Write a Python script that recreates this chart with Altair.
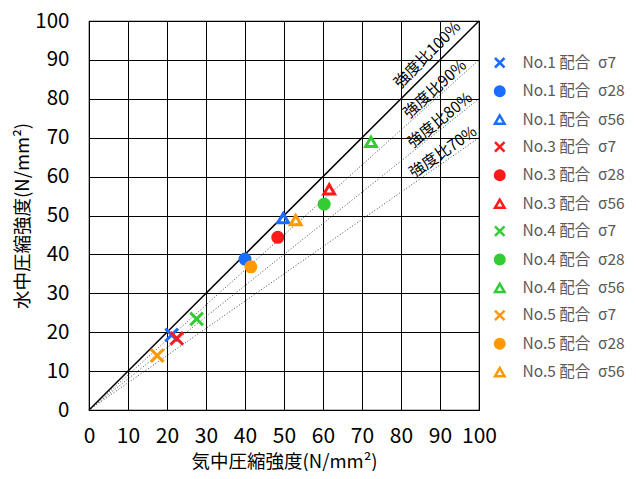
import altair as alt
import pandas as pd

series = ["No.1 配合\u2002σ7", "No.1 配合\u2002σ28", "No.1 配合\u2002σ56",
          "No.3 配合\u2002σ7", "No.3 配合\u2002σ28", "No.3 配合\u2002σ56",
          "No.4 配合\u2002σ7", "No.4 配合\u2002σ28", "No.4 配合\u2002σ56",
          "No.5 配合\u2002σ7", "No.5 配合\u2002σ28", "No.5 配合\u2002σ56"]
air = [21.2, 40.0, 49.8, 22.5, 48.4, 61.6, 27.6, 60.3, 72.3, 17.5, 41.5, 53.0]
water = [19.3, 38.8, 49.3, 18.4, 44.4, 56.7, 23.4, 52.9, 68.9, 14.0, 36.8, 48.8]
base_colors = ["#1a6dff", "#ff1a1a", "#33cc33", "#ff9900"]
kinds = ["x", "circle", "triangle"]

ratios = [1.0, 0.9, 0.8, 0.7]
ratio_labels = ["強度比100%", "強度比90%", "強度比80%", "強度比70%"]
label_x = [86.8, 88.7, 90.0, 90.8]
label_y = [91.3, 82.5, 74.5, 66.3]
label_angle = [315, 318, 321, 325]
ticks = list(range(0, 101, 10))

cross = "M-1,-1L1,1M-1,1L1,-1"
shape_map = {"x": cross, "circle": "circle", "triangle": "triangle-up"}
size_map = {"x": 160, "circle": 100, "triangle": 115}

colors, shapes, fills, sizes = [], [], [], []
for i, s in enumerate(series):
    c = base_colors[i // 3]
    k = kinds[i % 3]
    colors.append(c)
    shapes.append(shape_map[k])
    fills.append(c if k == "circle" else "transparent")
    sizes.append(size_map[k])

pts = pd.DataFrame({"series": series, "air": air, "water": water, "sz": sizes})

lines_rows = []
for r, lab in zip(ratios, ratio_labels):
    lines_rows.append({"ratio": lab, "x": 0, "y": 0})
    lines_rows.append({"ratio": lab, "x": 100, "y": 100 * r})
lines = pd.DataFrame(lines_rows)
labels = pd.DataFrame({"text": ratio_labels, "x": label_x, "y": label_y, "angle": label_angle})

xs = alt.Scale(domain=[0, 100], nice=False)
ys = alt.Scale(domain=[0, 100], nice=False)

axis_common = dict(values=ticks, grid=True, gridColor="#000000", gridWidth=1,
                   gridOpacity=1, ticks=False, domain=False, labelFont="Noto Sans CJK JP",
                   labelColor="#000000", titleFont="Noto Sans CJK JP",
                   titleColor="#000000", titleFontWeight="normal",
                   labelOverlap=False, labelFlush=False, labelBound=False)
xaxis = alt.Axis(title="気中圧縮強度(N/mm²)", labelPadding=15, titlePadding=6, titleFontSize=18.5,
                 labelFontSize=21, **axis_common)
yaxis = alt.Axis(title="水中圧縮強度(N/mm²)", labelPadding=20, titlePadding=2, titleFontSize=18.5,
                 labelFontSize=20.5, **axis_common)

X = lambda f: alt.X(f, scale=xs, axis=xaxis)
Y = lambda f: alt.Y(f, scale=ys, axis=yaxis)

solid = alt.Chart(lines[lines.ratio == ratio_labels[0]]).mark_line(color="#000000", strokeWidth=1.5).encode(
    x=X("x:Q"), y=Y("y:Q"),
)

dotted = alt.Chart(lines[lines.ratio != ratio_labels[0]]).mark_line(color="#333333", strokeWidth=0.9, strokeDash=[1, 2]).encode(
    x=X("x:Q"), y=Y("y:Q"), detail="ratio:N"
)

text = alt.Chart(labels).mark_text(font="Noto Sans CJK JP", fontSize=15.5, color="#000000").encode(
    x=X("x:Q"), y=Y("y:Q"), text="text:N",
    angle=alt.Angle("angle:Q", scale=None)
)

points = alt.Chart(pts).mark_point(strokeWidth=3, opacity=1).encode(
    x=X("air:Q"),
    y=Y("water:Q"),
    stroke=alt.Stroke("series:N", scale=alt.Scale(domain=series, range=colors), legend=alt.Legend(title=None)),
    fill=alt.Fill("series:N", scale=alt.Scale(domain=series, range=fills), legend=alt.Legend(title=None)),
    shape=alt.Shape("series:N", scale=alt.Scale(domain=series, range=shapes), legend=alt.Legend(title=None)),
    size=alt.Size("sz:Q", scale=None, legend=None),
    order=alt.Order("sz:Q"),
)

chart = alt.layer(solid, dotted, text, points).properties(
    width=390, height=389,
    autosize=alt.AutoSizeParams(type="none"),
    padding={"left": 81, "top": 13, "right": 149, "bottom": 61},
).configure_view(stroke="#000000", strokeWidth=1.2).configure_legend(
    orient="none", legendX=403, legendY=34, labelFont="Noto Sans CJK JP", labelFontSize=15.5,
    labelColor="#595959", symbolSize=90, symbolStrokeWidth=2.5, rowPadding=8.4, labelOffset=15,
    padding=0, symbolOpacity=1
)

chart.save("out.html", embed_options={"renderer": "svg", "actions": False})
